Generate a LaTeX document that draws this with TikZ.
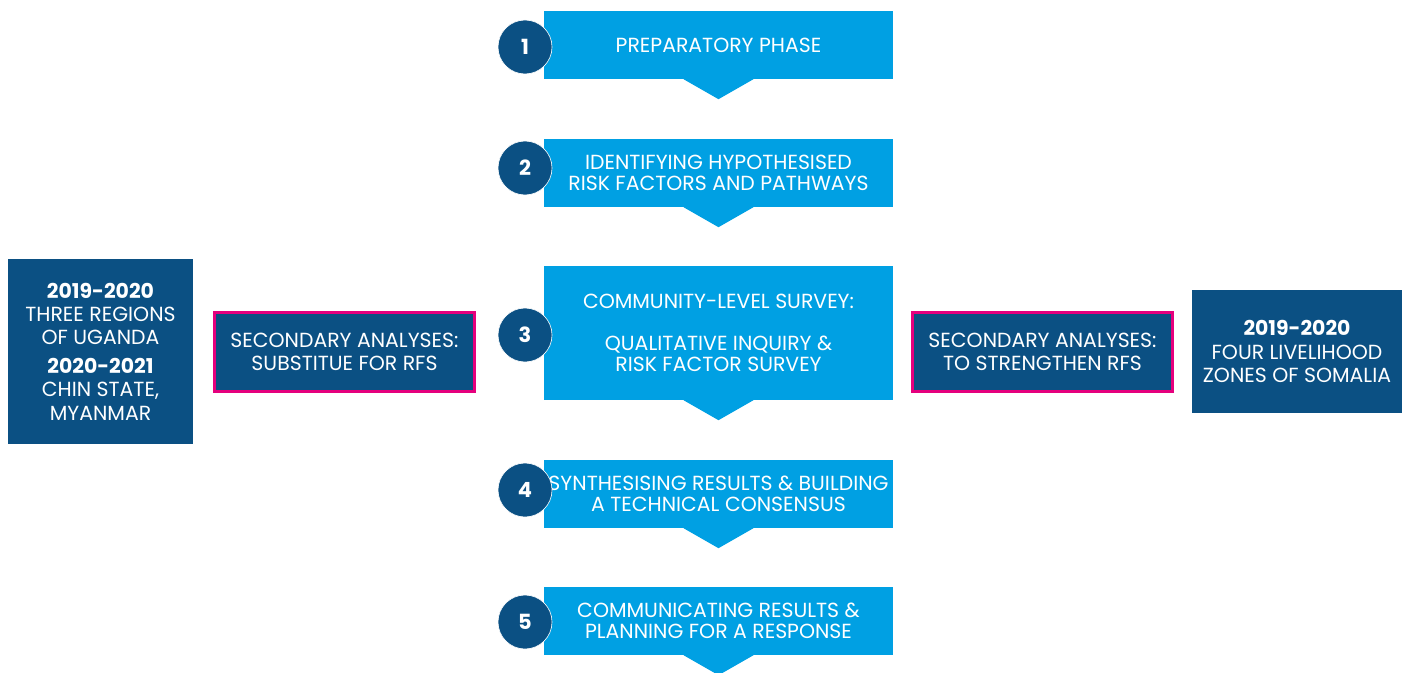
\documentclass[tikz,border=0pt]{standalone}
\usepackage{fontspec}
\setmainfont{Poppins}
\usetikzlibrary{positioning}
\definecolor{stepblue}{HTML}{00A0E3}
\definecolor{boxnavy}{HTML}{0B5083}
\definecolor{rfspink}{HTML}{E5007D}
\begin{document}
\begin{tikzpicture}[x=1bp,y=-1bp,
  stepbox/.style={fill=stepblue,text=white,minimum width=349bp,minimum height=68bp,inner sep=0pt,align=center,font=\fontsize{20.5}{21}\selectfont},
  numdot/.style={circle,fill=boxnavy,draw=white,line width=.6bp,minimum size=54bp,inner sep=0pt,text=white,font=\fontsize{21}{21}\selectfont\bfseries},
  secbox/.style={fill=boxnavy,draw=rfspink,line width=3bp,text=white,minimum width=260bp,minimum height=79bp,inner sep=0pt,align=center,font=\fontsize{20.5}{23}\selectfont},
  yearbox/.style={fill=boxnavy,text=white,inner sep=0pt,align=center,font=\fontsize{20.5}{23.5}\selectfont}]
\useasboundingbox (0,0) rectangle (1408,673);
%cac buoc
\node[stepbox] (step1) at (718.5,45) {PREPARATORY PHASE};
\node[stepbox] (step2) at (718.5,173) {IDENTIFYING HYPOTHESISED\\RISK FACTORS AND PATHWAYS};
\node[stepbox,minimum height=134bp] (step3) at (718.5,333) {COMMUNITY-LEVEL SURVEY:\\[21bp]QUALITATIVE INQUIRY \&\\RISK FACTOR SURVEY};
\node[stepbox] (step4) at (718.5,494) {SYNTHESISING RESULTS \& BUILDING\\A TECHNICAL CONSENSUS};
\node[stepbox] (step5) at (718.5,621) {COMMUNICATING RESULTS \&\\PLANNING FOR A RESPONSE};
\foreach \i in {1,...,5} \fill[stepblue] ([xshift=-35bp]step\i.south)--([xshift=35bp]step\i.south)--([yshift=-20bp]step\i.south)--cycle;%mui ten
\foreach \i/\y in {1/47,2/168,3/335,4/490,5/622} \node[numdot] (num\i) at (525,\y) {\i};
%hai ben
\node[secbox] (secleft) at (344.5,351.5) {SECONDARY ANALYSES:\\SUBSTITUE FOR RFS};
\node[secbox] (secright) at (1042.5,352) {SECONDARY ANALYSES:\\TO STRENGTHEN RFS};
\node[yearbox,minimum width=185bp,minimum height=185bp] (uganda) at (100.5,351.5) {\textbf{2019-2020}\\THREE REGIONS\\OF UGANDA\\[5bp]\textbf{2020-2021}\\CHIN STATE,\\MYANMAR};
\node[yearbox,minimum width=210bp,minimum height=123bp] (somalia) at (1297,351.5) {\textbf{2019-2020}\\FOUR LIVELIHOOD\\ZONES OF SOMALIA};
\end{tikzpicture}
\end{document}
